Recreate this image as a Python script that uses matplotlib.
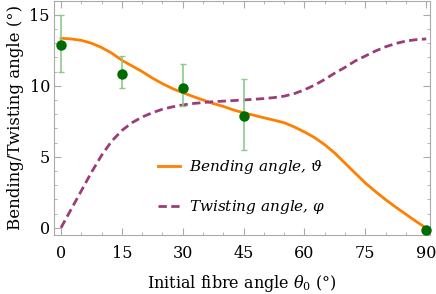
import matplotlib
matplotlib.use("Agg")
import matplotlib.pyplot as plt

# measured points with error bars
exp_angle = [0, 15, 30, 45, 90]
exp_bend = [12.85, 10.85, 9.83, 7.87, -0.12]
err_low = [11.0, 9.86, 8.55, 5.5, -0.12]
err_high = [15.0, 12.1, 11.5, 10.46, -0.12]

# model curves
bend_x = [0, 2.5, 5, 7.5, 10, 12.5, 15, 17.5, 20, 22.5, 25, 27.5, 30, 32.5, 35, 37.5, 40,
          42.5, 45, 47.5, 50, 52.5, 55, 57.5, 60, 62.5, 65, 67.5, 70, 72.5, 75, 77.5,
          80, 82.5, 85, 87.5, 90]
bend_y = [13.35, 13.3, 13.2, 13.0, 12.7, 12.3, 11.8, 11.4, 11.0, 10.55, 10.15, 9.8, 9.52,
          9.25, 9.0, 8.75, 8.55, 8.3, 8.1, 7.93, 7.75, 7.58, 7.4, 7.1, 6.75, 6.35, 5.85,
          5.25, 4.55, 3.85, 3.15, 2.55, 1.98, 1.45, 0.95, 0.45, -0.02]

twist_x = [0, 2.5, 5, 7.5, 10, 12.5, 15, 17.5, 20, 22.5, 25, 27.5, 30, 32.5, 35, 37.5,
           40, 42.5, 45, 47.5, 50, 52.5, 55, 57.5, 60, 62.5, 65, 67.5, 70, 72.5, 75,
           77.5, 80, 82.5, 85, 87.5, 90]
twist_y = [0, 1.3, 2.6, 3.9, 5.1, 6.1, 6.85, 7.4, 7.8, 8.1, 8.35, 8.52, 8.65, 8.75, 8.82,
           8.88, 8.92, 8.96, 9.0, 9.05, 9.1, 9.17, 9.27, 9.45, 9.72, 10.05, 10.45, 10.9,
           11.3, 11.75, 12.1, 12.45, 12.75, 12.98, 13.15, 13.25, 13.3]

plt.rcParams['font.family'] = ['DejaVu Serif']
plt.rcParams['mathtext.fontset'] = 'dejavuserif'

fig = plt.figure(figsize=(4.36, 2.94), dpi=100)
ax = fig.add_axes([0.124, 0.201, 0.862, 0.797])

ax.plot(bend_x, bend_y, color='#ff8000', lw=2, label='Bending angle, $\\vartheta$')
ax.plot(twist_x, twist_y, color='#9b3d78', lw=2, ls=(0, (3, 1.6)),
        label='Twisting angle, $\\varphi$')

yerr = [[b - l for b, l in zip(exp_bend, err_low)],
        [h - b for b, h in zip(exp_bend, err_high)]]
ax.errorbar(exp_angle, exp_bend, yerr=yerr, fmt='none', ecolor='#8cc98c',
            elinewidth=1.2, capsize=2.5, capthick=1)
ax.plot(exp_angle, exp_bend, 'o', color='#006b00', ms=6.5, zorder=5, clip_on=False)

ax.set_xlim(-1.7, 90.9)
ax.set_ylim(-0.5, 16)
ax.set_xticks([0, 15, 30, 45, 60, 75, 90])
ax.set_xticks(range(0, 91, 5), minor=True)
ax.set_yticks([0, 5, 10, 15])
ax.set_yticks(range(0, 16), minor=True)

for s in ax.spines.values():
    s.set_color('#aaaaaa')
ax.tick_params(which='both', direction='in', top=True, right=True, color='#aaaaaa',
               labelsize=11.5)
ax.tick_params(axis='x', pad=7)
ax.tick_params(axis='y', pad=3)
ax.tick_params(which='major', length=5)
ax.tick_params(which='minor', length=2.5)

ax.set_xlabel('Initial fibre angle $\\theta_0$ (°)', fontsize=11.5, labelpad=8)
ax.set_ylabel('Bending/Twisting angle (°)', fontsize=12, labelpad=4)

leg = ax.legend(loc='lower left', bbox_to_anchor=(0.24, 0.02), frameon=False,
                handlelength=1.45, handletextpad=0.6, labelspacing=1.45, fontsize=11)
for t in leg.get_texts():
    t.set_style('italic')

fig.savefig('out.png', dpi=100)
